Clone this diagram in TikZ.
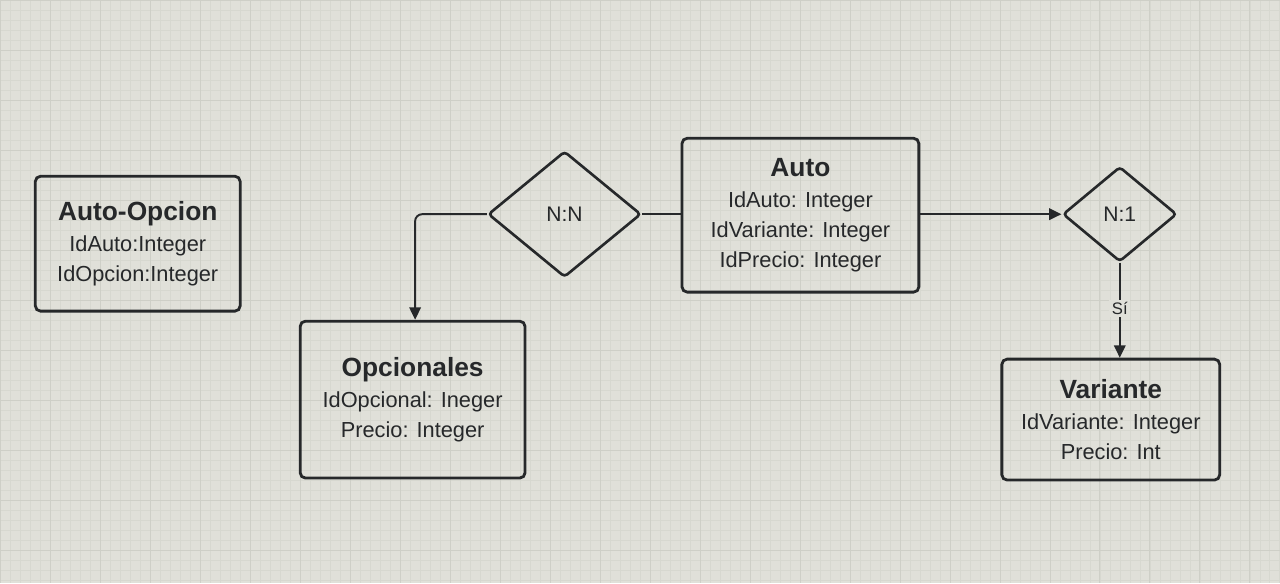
\documentclass[tikz,border=0pt]{standalone}
\usepackage{fontspec}
\setsansfont{Liberation Sans}
\usetikzlibrary{positioning, arrows.meta, shapes.geometric}

\definecolor{screen}{RGB}{224,224,217}
\definecolor{gridmin}{RGB}{215,216,208}
\definecolor{gridmaj}{RGB}{206,207,199}
\definecolor{ink}{RGB}{38,40,42}

\newcommand{\etitle}[1]{{\fontsize{15}{17}\selectfont\bfseries #1}}

\begin{document}
\begin{tikzpicture}[
  x=0.02cm, y=-0.02cm,
  font=\sffamily,
  entity/.style={draw=ink, line width=1.6pt, rounded corners=3pt, align=center,
    text=ink, inner sep=0pt, font=\sffamily\fontsize{12.4}{17}\selectfont},
  rel/.style={draw=ink, line width=1.5pt, diamond, rounded corners=2pt,
    inner sep=0pt, text=ink, font=\sffamily\fontsize{12}{14}\selectfont},
  conn/.style={draw=ink, line width=1.1pt},
  arr/.style={conn, -{Triangle[length=7pt, width=6.5pt]}},
  tag/.style={fill=screen, text=ink, inner sep=1.5pt, font=\sffamily\fontsize{9.5}{11}\selectfont},
]
  % screen background
  \fill[screen] (0,0) rectangle (1280,583);
  \foreach \gx in {0,10,...,1280} \draw[gridmin, line width=0.25pt] (\gx,0) -- (\gx,583);
  \foreach \gy in {0,10,...,580} \draw[gridmin, line width=0.25pt] (0,\gy) -- (1280,\gy);
  \foreach \gx in {0,50,...,1280} \draw[gridmaj, line width=0.35pt] (\gx,0) -- (\gx,583);
  \foreach \gy in {0,50,...,550} \draw[gridmaj, line width=0.35pt] (0,\gy) -- (1280,\gy);
  \useasboundingbox (0,0) rectangle (1280,583);

  % entities
  \node[entity, minimum width=4.10cm, minimum height=2.70cm] (autoop) at (137.5,243.5)
    {\etitle{Auto-Opcion}\\[1pt] IdAuto:Integer\\ IdOpcion:Integer};
  \node[entity, minimum width=4.50cm, minimum height=3.14cm] (opc) at (412.5,399.5)
    {\etitle{Opcionales}\\[1pt] IdOpcional: Ineger\\ Precio: Integer};
  \node[entity, minimum width=4.74cm, minimum height=3.08cm] (auto) at (800.5,215)
    {\etitle{Auto}\\[1pt] IdAuto: Integer\\ IdVariante: Integer\\ IdPrecio: Integer};
  \node[entity, minimum width=4.36cm, minimum height=2.42cm] (var) at (1111,419.5)
    {\etitle{Variante}\\[1pt] IdVariante: Integer\\ Precio: Int};

  % relationships
  \node[rel, minimum width=3.06cm, minimum height=2.52cm] (nn) at (564.5,214) {N:N};
  \node[rel, minimum width=2.28cm, minimum height=1.90cm] (n1) at (1120,214) {N:1};

  % connectors
  \draw[arr, rounded corners=4pt] (nn.west) -| ([xshift=0.05cm]opc.north);
  \draw[conn] (nn.east) -- (nn.east -| auto.west);
  \draw[arr] (n1.west -| auto.east) -- (n1.west);
  \draw[arr] (n1.south) -- node[tag, yshift=0.04cm] {Sí} (n1.south |- var.north);
\end{tikzpicture}
\end{document}
